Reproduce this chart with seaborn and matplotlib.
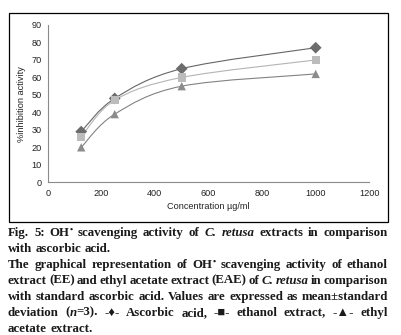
import re
import numpy as np
import pandas as pd
import matplotlib
matplotlib.use("Agg")
import matplotlib.pyplot as plt
import seaborn as sns
from matplotlib.path import Path
from matplotlib.patches import PathPatch, Rectangle

# ---------------- data ----------------
concentration = [125, 250, 500, 1000]
ascorbic_acid = [29, 48, 65, 77]
ethanol_extract = [26, 47, 60, 70]
ethyl_acetate_extract = [20, 39, 55, 62]
series_names = ["Ascorbic acid", "Ethanol extract", "Ethyl acetate extract"]
x_ticks = [0, 200, 400, 600, 800, 1000, 1200]
y_ticks = [0, 10, 20, 30, 40, 50, 60, 70, 80, 90]
x_label = "Concentration µg/ml"
y_label = "%inhibition activity"
caption_lines = [
    "Fig. 5: OH^• scavenging activity of _C._ _retusa_ extracts in comparison",
    "with ascorbic acid.",
    "The graphical representation of OH^• scavenging activity of ethanol",
    "extract (EE) and ethyl acetate extract (EAE) of _C._ _retusa_ in comparison",
    "with standard ascorbic acid. Values are expressed as mean±standard",
    "deviation (_n_=3). -♦- Ascorbic acid, -■- ethanol extract, -▲- ethyl",
    "acetate extract.",
]
caption_justify = [True, False, True, True, True, True, False]

# ---------------- style ----------------
sns.set_theme(style="white")
plt.rcParams["font.family"] = ["Liberation Sans", "DejaVu Sans"]

W_PX, H_PX = 402, 335
fig = plt.figure(figsize=(W_PX / 100, H_PX / 100), dpi=100)
ax = fig.add_axes([47.7 / W_PX, 1 - 182.3 / H_PX, (369.3 - 47.7) / W_PX, (182.3 - 25.0) / H_PX])

df = pd.DataFrame({
    "conc": concentration * 3,
    "value": ascorbic_acid + ethanol_extract + ethyl_acetate_extract,
    "series": [series_names[0]] * 4 + [series_names[1]] * 4 + [series_names[2]] * 4,
})
marker_colors = {series_names[0]: "#6c6c6c", series_names[1]: "#bcbcbc", series_names[2]: "#8c8c8c"}
line_colors = {series_names[0]: "#666666", series_names[1]: "#b4b4b4", series_names[2]: "#828282"}
markers = {series_names[0]: "D", series_names[1]: "s", series_names[2]: "^"}


def smooth_path(xs, ys):
    pts = np.column_stack([xs, ys]).astype(float)
    n = len(pts)
    verts = [pts[0]]
    codes = [Path.MOVETO]
    for i in range(n - 1):
        p0 = pts[max(i - 1, 0)]
        p1 = pts[i]
        p2 = pts[i + 1]
        p3 = pts[min(i + 2, n - 1)]
        verts += [p1 + (p2 - p0) / 6.0, p2 - (p3 - p1) / 6.0, p2]
        codes += [Path.CURVE4] * 3
    return Path(verts, codes)


for name in series_names:
    sub = df[df["series"] == name]
    ax.add_patch(PathPatch(smooth_path(sub["conc"].values, sub["value"].values),
                           facecolor="none", edgecolor=line_colors[name], lw=0.8, zorder=2))

sns.scatterplot(data=df, x="conc", y="value", hue="series", style="series",
                palette=marker_colors, markers=markers, s=36, linewidth=0,
                legend=False, ax=ax, zorder=3)

ax.set_xlim(0, 1200)
ax.set_ylim(0, 90)
ax.set_xticks(x_ticks)
ax.set_yticks(y_ticks)
ax.set_xticklabels([str(t) for t in x_ticks])
ax.set_yticklabels([str(t) for t in y_ticks])
ax.set_xlabel(x_label, fontsize=6.6, color="#222222", labelpad=3)
ax.set_ylabel(y_label, fontsize=6.6, color="#222222", labelpad=4)
for s in ["top", "right"]:
    ax.spines[s].set_visible(False)
for s in ["left", "bottom"]:
    ax.spines[s].set_color("#8a8a8a")
    ax.spines[s].set_linewidth(0.8)
ax.tick_params(axis="both", direction="out", length=2.5, width=0.8, color="#8a8a8a",
               labelsize=6.6, labelcolor="#222222", pad=2)
ax.set_facecolor("white")
ax.grid(False)

# outer frame
fig.add_artist(Rectangle((9 / W_PX, 1 - 222 / H_PX), 379 / W_PX, 209 / H_PX,
                         transform=fig.transFigure, fill=False, ec="black", lw=0.9))

# ---------------- caption (justified) ----------------
renderer = fig.canvas.get_renderer()
cap_fs = 9.3
cap_family = ["Liberation Serif", "DejaVu Sans"]
left_px, right_px = 8.0, 388.0
baseline0, line_step = 236, 16


def word_segments(word):
    segs = []
    for part in re.split(r"(_[^_]+_|\^.)", word):
        if not part:
            continue
        if part.startswith("_") and part.endswith("_") and len(part) > 2:
            segs.append((part[1:-1], "italic", 0))
        elif part.startswith("^"):
            segs.append((part[1:], "normal", 4))
        else:
            segs.append((part, "normal", 0))
    return segs


for li, line in enumerate(caption_lines):
    words = []
    for w in line.split(" "):
        items = []
        for txt, style, rise in word_segments(w):
            fs = cap_fs * 0.7 if rise else cap_fs
            t = fig.text(0, 0, txt, fontsize=fs, fontweight="bold", fontstyle=style,
                         family=cap_family, va="baseline", ha="left", color="#1a1a1a")
            wpx = t.get_window_extent(renderer).width
            items.append((t, wpx, rise))
        words.append(items)
    widths = [sum(it[1] for it in wd) for wd in words]
    if caption_justify[li] and len(words) > 1:
        gap = (right_px - left_px - sum(widths)) / (len(words) - 1)
    else:
        gap = cap_fs * 100 / 72 * 0.25
    x = left_px
    yb = baseline0 + li * line_step
    for wd, wsum in zip(words, widths):
        xx = x
        for t, wpx, rise in wd:
            t.set_position((xx / W_PX, (H_PX - yb + rise + 0.25) / H_PX))
            xx += wpx
        x += wsum + gap

fig.savefig("out.png", dpi=100, facecolor="white")
